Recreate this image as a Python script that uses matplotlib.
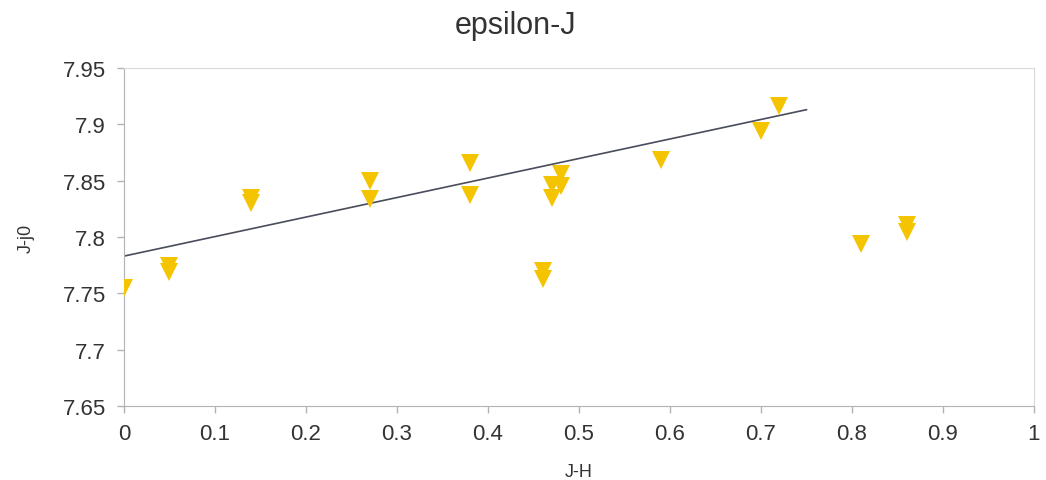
import matplotlib
matplotlib.use("Agg")
import matplotlib.pyplot as plt

plt.rcParams["font.family"] = ["Liberation Sans", "DejaVu Sans"]

# 觀測點 (J-H, J-j0)
jh = [0.00, 0.05, 0.05, 0.14, 0.14, 0.27, 0.27, 0.38, 0.38, 0.46, 0.46,
      0.47, 0.47, 0.48, 0.48, 0.59, 0.70, 0.72, 0.81, 0.86, 0.86]
jj0 = [7.755, 7.774, 7.769, 7.835, 7.830, 7.850, 7.834, 7.866, 7.837, 7.770, 7.763,
       7.846, 7.835, 7.856, 7.845, 7.868, 7.894, 7.916, 7.794, 7.811, 7.804]

# 趨勢線端點
trend_x = [0.0, 0.75]
trend_y = [7.783, 7.913]

x_ticks = [0, 0.1, 0.2, 0.3, 0.4, 0.5, 0.6, 0.7, 0.8, 0.9, 1]
x_labels = ["0", "0.1", "0.2", "0.3", "0.4", "0.5", "0.6", "0.7", "0.8", "0.9", "1"]
y_ticks = [7.65, 7.7, 7.75, 7.8, 7.85, 7.9, 7.95]
y_labels = ["7.65", "7.7", "7.75", "7.8", "7.85", "7.9", "7.95"]

fig = plt.figure(figsize=(10.46, 4.81), dpi=100)
ax = fig.add_axes([0.1185, 0.154, 0.87, 0.7025])

ax.plot(trend_x, trend_y, color="#4a4d5c", linewidth=1.2, zorder=2)
ax.plot(jh, jj0, linestyle="none", marker="v", markersize=12.5,
        color="#f5c400", markeredgewidth=0, zorder=3)

ax.set_xlim(0, 1)
ax.set_ylim(7.65, 7.95)
ax.set_xticks(x_ticks)
ax.set_xticklabels(x_labels)
ax.set_yticks(y_ticks)
ax.set_yticklabels(y_labels)
ax.tick_params(labelsize=16, colors="#b3b3b3", labelcolor="#333333",
               length=5, width=1, direction="out")
ax.tick_params(axis="x", pad=7)
ax.tick_params(axis="y", pad=8)

for side in ("left", "bottom"):
    ax.spines[side].set_color("#b3b3b3")
for side in ("top", "right"):
    ax.spines[side].set_color("#d9d9d9")

fig.text(0.493, 0.945, "epsilon-J", fontsize=22, color="#333333",
         ha="center", va="center")
ax.set_xlabel("J-H", fontsize=13, color="#333333", labelpad=14)
ax.set_ylabel("J-j0", fontsize=13, color="#333333", labelpad=20)

fig.savefig("out.png", dpi=100)
